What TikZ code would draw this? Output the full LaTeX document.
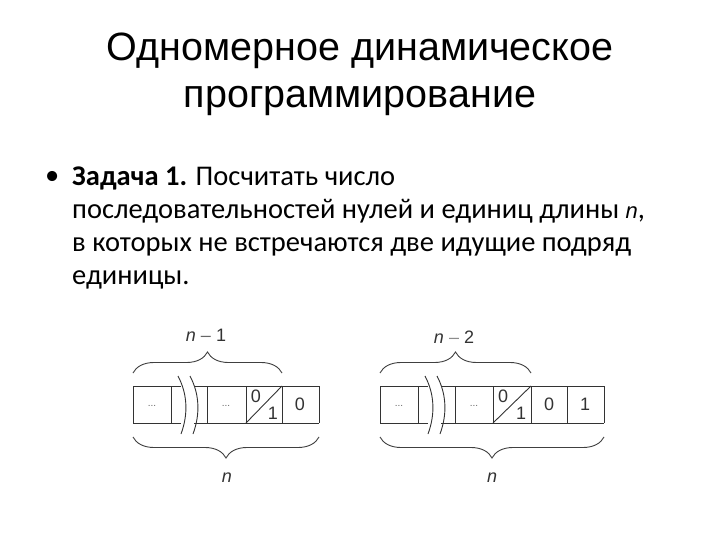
\documentclass[tikz,border=0pt]{standalone}
\usepackage{fontspec}
\setmainfont{Carlito}
\newfontfamily\titlefont{Liberation Sans}
\newfontfamily\figfont{Liberation Sans}
\usetikzlibrary{decorations.pathreplacing}

\tikzset{
  headline/.style={anchor=base, inner sep=0pt, font=\titlefont\fontsize{39.5}{44}\selectfont},
  bodytext/.style={anchor=base west, inner sep=0pt, align=left, font=\fontsize{28.5}{33}\selectfont},
  cellline/.style={draw=black!80, line width=0.9pt},
  bracebig/.style={draw=black!75, line width=0.9pt, decorate, decoration={brace, amplitude=21pt}},
  celltext/.style={inner sep=0pt, text=black!80, font=\figfont\fontsize{18}{18}\selectfont},
  dots/.style={inner sep=0pt, text=black!60, font=\figfont\fontsize{10}{10}\selectfont},
}

\begin{document}
\begin{tikzpicture}[x=1pt, y=-1pt]
  \useasboundingbox (0,0) rectangle (720,540);

  \node[headline] (title1) at (360,61) {Одномерное динамическое};
  \node[headline] (title2) at (360,108) {программирование};

  \node[bodytext] (bullet) at (45,185) {•};
  \node[bodytext] (task) at (72,284) {\textbf{Задача 1.} Посчитать число\\
    последовательностей нулей и единиц длины {\figfont\itshape\fontsize{22}{22}\selectfont n},\\
    в которых не встречаются две идущие подряд\\
    единицы.};

  % left row: n-1 then 0
  \draw[cellline] (133,386) -- (181,386) (194,386) -- (319,386);
  \draw[cellline] (133,423) -- (181,423) (194,423) -- (319,423);
  \foreach \x in {133,171,207,246,282,319}
    \draw[cellline] (\x,386) -- (\x,423);
  \draw[cellline] (178,376) .. controls (188,395) and (188,415) .. (181,434);
  \draw[cellline] (190,376) .. controls (200,395) and (200,415) .. (193,434);
  \draw[cellline] (246,423) -- (282,386);
  \node[dots] (ldots1) at (152,406) {...};
  \node[dots] (ldots2) at (226,406) {...};
  \node[celltext] (lzero) at (256,396) {0};
  \node[celltext] (lone) at (273,413) {1};
  \node[celltext] (lend) at (300,404) {0};

  \draw[bracebig] (133,373) -- (282,373);
  \draw[bracebig] (319,437) -- (133,437);
  \node[celltext] (lup) at (206,335) {\itshape n\upshape\ {\color{black!60}–} 1};
  \node[celltext] (ldown) at (227,478) {\itshape n};

  % right row: n-2 then 0 1
  \draw[cellline] (380,386) -- (428,386) (441,386) -- (604,386);
  \draw[cellline] (380,423) -- (428,423) (441,423) -- (604,423);
  \foreach \x in {380,418,455,493,531,567,604}
    \draw[cellline] (\x,386) -- (\x,423);
  \draw[cellline] (425,376) .. controls (435,395) and (435,415) .. (428,434);
  \draw[cellline] (437,376) .. controls (447,395) and (447,415) .. (440,434);
  \draw[cellline] (493,423) -- (531,386);
  \node[dots] (rdots1) at (399,406) {...};
  \node[dots] (rdots2) at (474,406) {...};
  \node[celltext] (rzero) at (503,396) {0};
  \node[celltext] (rone) at (521,413) {1};
  \node[celltext] (rmid) at (549,404) {0};
  \node[celltext] (rend) at (585,404) {1};

  \draw[bracebig] (380,373) -- (531,373);
  \draw[bracebig] (604,437) -- (380,437);
  \node[celltext] (rup) at (454,337) {\itshape n\upshape\ {\color{black!45}–} 2};
  \node[celltext] (rdown) at (492,478) {\itshape n};
\end{tikzpicture}
\end{document}
